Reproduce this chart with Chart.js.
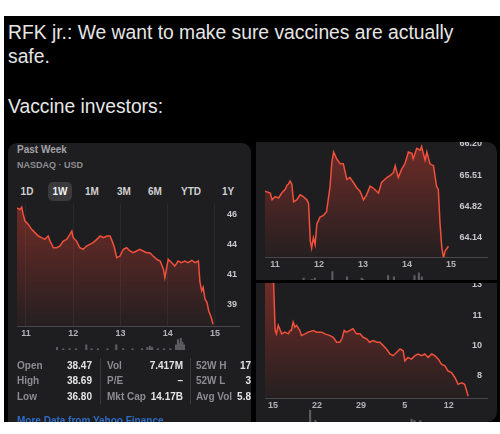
<!DOCTYPE html>
<html lang="en">
<head>
<meta charset="UTF-8">
<title>Vaccine investors</title>
<script src="https://cdn.jsdelivr.net/npm/chart.js"></script>
<style>
  body { margin: 0; width: 500px; height: 434px; background: #fff; position: relative; overflow: hidden;
         font-family: 'Liberation Sans', Arial, sans-serif; }
  .abs { position: absolute; white-space: nowrap; }
  #frame { left: 4px; top: 16px; width: 496px; height: 406px; background: #000; }
  .caption { color: #e6e6e6; font-size: 19.3px; line-height: 24px; left: 8px; }
  .panel { background: #1e1e20; overflow: hidden; }
  .hdr { color: #a2a2a6; font-weight: bold; line-height: 12px; }
  .btn { color: #d0d0d2; font-weight: bold; font-size: 10px; line-height: 12px; top: 43px; transform: translateX(-50%); }
  .lbl { color: #8c8c90; font-weight: bold; font-size: 10px; line-height: 12px; }
  .val { color: #e4e4e6; font-weight: bold; font-size: 10px; line-height: 12px; transform: translateX(-100%); }
  .sep { width: 1px; background: #3a3a3c; top: 215px; height: 46px; }
</style>
</head>
<body>
<div id="frame" class="abs"></div>
<div class="abs caption" style="top:21px">RFK jr.: We want to make sure vaccines are actually<br>safe.</div>
<div class="abs caption" style="top:95px">Vaccine investors:</div>

<div id="panelL" class="abs panel" style="left:8px;top:143px;width:243px;height:279px;border-radius:9px 9px 0 0">
  <div class="abs hdr" style="left:9px;top:1px;font-size:10px">Past Week</div>
  <div class="abs hdr" style="left:9px;top:16px;font-size:9px;color:#8e8e93">NASDAQ · USD</div>
  <div class="abs" style="left:40px;top:39px;width:24px;height:19px;border-radius:5px;background:#3a3a3c"></div>
  <div class="abs btn" style="left:19px">1D</div>
  <div class="abs btn" style="left:52px;color:#f2f2f4">1W</div>
  <div class="abs btn" style="left:84px">1M</div>
  <div class="abs btn" style="left:116px">3M</div>
  <div class="abs btn" style="left:147px">6M</div>
  <div class="abs btn" style="left:183px">YTD</div>
  <div class="abs btn" style="left:220px">1Y</div>
  <canvas id="weekChart" class="abs" style="left:9px;top:61px" width="223" height="137"></canvas>
  <canvas id="weekVolume" class="abs" style="left:9px;top:194px" width="223" height="13"></canvas>

  <div class="abs lbl" style="left:9px;top:217px">Open</div>
  <div class="abs lbl" style="left:9px;top:232px">High</div>
  <div class="abs lbl" style="left:9px;top:248px">Low</div>
  <div class="abs val" style="left:84px;top:217px">38.47</div>
  <div class="abs val" style="left:84px;top:232px">38.69</div>
  <div class="abs val" style="left:84px;top:248px">36.80</div>
  <div class="abs sep" style="left:92px"></div>
  <div class="abs lbl" style="left:99px;top:217px">Vol</div>
  <div class="abs lbl" style="left:99px;top:232px">P/E</div>
  <div class="abs lbl" style="left:99px;top:248px">Mkt Cap</div>
  <div class="abs val" style="left:175px;top:217px">7.417M</div>
  <div class="abs val" style="left:175px;top:232px">–</div>
  <div class="abs val" style="left:175px;top:248px">14.17B</div>
  <div class="abs sep" style="left:182px"></div>
  <div class="abs lbl" style="left:188px;top:217px">52W H</div>
  <div class="abs lbl" style="left:188px;top:232px">52W L</div>
  <div class="abs lbl" style="left:188px;top:248px">Avg Vol</div>
  <div class="abs val" style="left:243px;top:217px">17</div>
  <div class="abs val" style="left:243px;top:232px">3</div>
  <div class="abs val" style="left:243px;top:248px">5.8</div>
  <div class="abs" style="left:9px;top:272px;font-size:10px;font-weight:bold;color:#2f6cc4">More Data from Yahoo Finance</div>
</div>

<div class="abs panel" style="left:256px;top:142px;width:241px;height:138px;border-radius:0 10px 0 0">
  <canvas id="dayChart" class="abs" style="left:9px;top:0" width="223" height="130"></canvas>
  <canvas id="dayVolume" class="abs" style="left:9px;top:127px" width="223" height="13"></canvas>
</div>
<div class="abs panel" style="left:256px;top:283px;width:241px;height:139px;border-radius:0 0 10px 0">
  <canvas id="monthChart" class="abs" style="left:9px;top:0" width="223" height="130"></canvas>
  <canvas id="monthVolume" class="abs" style="left:9px;top:126px" width="223" height="14"></canvas>
</div>

<script>
// ---- data: [x position in tick units, value] ----
const weekLabels = ['11', '12', '13', '14', '15'];
const weekTicks = [39.1, 41.4, 43.7, 46.0];
const weekTickLabels = ['39', '41', '44', '46'];
const weekPrices = [
  [-0.20, 46.51], [-0.13, 46.38], [-0.09, 46.56], [-0.06, 46.00], [-0.02, 45.49], [0.05, 45.23],
  [0.12, 44.85], [0.19, 44.60], [0.26, 44.34], [0.33, 44.21], [0.40, 44.08], [0.47, 44.34],
  [0.51, 43.95], [0.58, 43.44], [0.65, 43.44], [0.72, 43.57], [0.79, 43.95], [0.86, 44.08],
  [0.93, 44.47], [0.97, 44.72], [1.00, 44.21], [1.07, 43.95], [1.14, 43.44], [1.21, 43.32],
  [1.28, 43.57], [1.35, 43.70], [1.42, 43.83], [1.50, 44.08], [1.57, 44.34], [1.64, 44.21],
  [1.71, 44.34], [1.78, 44.34], [1.85, 43.70], [1.88, 43.32], [1.92, 42.68], [1.99, 42.80],
  [2.06, 43.32], [2.13, 43.44], [2.20, 43.19], [2.27, 43.06], [2.34, 43.19], [2.41, 43.32],
  [2.48, 43.19], [2.55, 43.06], [2.62, 43.06], [2.69, 42.80], [2.77, 42.55], [2.84, 42.42],
  [2.91, 41.78], [2.94, 41.14], [3.01, 42.55], [3.08, 42.30], [3.15, 42.03], [3.22, 42.42],
  [3.29, 42.30], [3.36, 42.42], [3.43, 42.30], [3.51, 42.47], [3.58, 42.30], [3.65, 42.42],
  [3.68, 40.86], [3.72, 40.12], [3.75, 40.40], [3.79, 39.48], [3.83, 39.25], [3.87, 38.56],
  [3.92, 38.10], [3.96, 37.56]
];
const weekVolumes = [
  [-0.10, 2], [0.10, 1], [0.30, 1], [0.50, 1], [0.83, 4], [1.00, 1], [1.20, 1], [1.50, 1],
  [1.78, 4], [2.00, 1], [2.30, 1], [2.60, 1], [2.77, 2], [2.85, 3], [2.92, 2], [3.10, 1],
  [3.30, 1], [3.50, 1], [3.68, 4], [3.74, 8], [3.78, 5], [3.83, 9], [3.88, 6], [3.93, 4]
];

const dayLabels = ['11', '12', '13', '14', '15'];
const dayTicks = [64.14, 64.82, 65.51, 66.20];
const dayTickLabels = ['64.14', '64.82', '65.51', '66.20'];
const dayPrices = [
  [-0.23, 65.16], [-0.11, 65.12], [-0.07, 64.97], [0.00, 65.04], [0.08, 65.01], [0.15, 65.12],
  [0.23, 65.20], [0.27, 65.29], [0.30, 65.31], [0.34, 65.38], [0.38, 65.31], [0.42, 64.93],
  [0.49, 64.97], [0.57, 65.08], [0.64, 65.04], [0.72, 64.97], [0.76, 64.89], [0.80, 64.07],
  [0.83, 63.91], [0.87, 64.14], [0.91, 63.99], [0.95, 64.44], [1.02, 64.59], [1.10, 64.63],
  [1.17, 64.71], [1.25, 65.27], [1.29, 65.80], [1.33, 66.02], [1.40, 65.87], [1.48, 65.76],
  [1.55, 65.76], [1.63, 65.42], [1.70, 65.46], [1.78, 65.35], [1.86, 65.23], [1.93, 65.16],
  [2.01, 64.97], [2.08, 65.08], [2.16, 65.27], [2.23, 65.23], [2.35, 65.12], [2.42, 65.35],
  [2.54, 65.46], [2.61, 65.50], [2.69, 65.57], [2.73, 65.72], [2.80, 65.46], [2.88, 65.65],
  [2.95, 65.76], [3.03, 66.02], [3.11, 65.99], [3.14, 65.87], [3.22, 66.10], [3.30, 66.06],
  [3.33, 66.14], [3.41, 65.84], [3.45, 66.02], [3.52, 65.76], [3.60, 65.72], [3.67, 65.27],
  [3.71, 65.20], [3.75, 64.44], [3.79, 63.91], [3.83, 63.69], [3.86, 63.84], [3.94, 63.95]
];
const dayVolumes = [
  [-0.18, 3], [0.10, 2], [0.20, 3], [0.80, 8], [1.30, 4], [1.80, 3], [1.85, 2],
  [2.70, 5], [2.90, 4], [3.60, 5], [3.75, 7], [3.85, 4]
];

const monthLabels = ['15', '22', '29', '5', '12'];
const monthTicks = [8.2, 9.8, 11.4, 13.0];
const monthTickLabels = ['8', '10', '11', '13'];
const monthPrices = [
  [-0.18, 13.50], [0.01, 13.50], [0.05, 10.60], [0.08, 10.42], [0.12, 10.87], [0.20, 10.42],
  [0.27, 10.51], [0.35, 10.42], [0.39, 10.60], [0.42, 10.60], [0.46, 11.04], [0.50, 10.78],
  [0.54, 10.87], [0.61, 10.60], [0.65, 10.33], [0.73, 10.42], [0.80, 10.51], [0.92, 10.60],
  [0.99, 10.51], [1.11, 10.51], [1.18, 10.42], [1.30, 10.33], [1.37, 10.24], [1.45, 9.98],
  [1.52, 9.98], [1.57, 10.16], [1.62, 10.60], [1.67, 10.51], [1.75, 10.60], [1.82, 10.69],
  [1.90, 10.42], [1.98, 10.42], [2.05, 10.24], [2.13, 10.16], [2.20, 9.98], [2.28, 10.07],
  [2.36, 9.98], [2.43, 9.98], [2.51, 9.80], [2.58, 9.62], [2.66, 9.36], [2.73, 9.27],
  [2.81, 9.44], [2.89, 9.62], [2.96, 9.53], [3.00, 9.00], [3.07, 9.18], [3.15, 9.09],
  [3.23, 9.27], [3.30, 9.36], [3.38, 9.27], [3.45, 9.36], [3.53, 9.18], [3.61, 9.36],
  [3.68, 9.27], [3.76, 9.09], [3.83, 8.82], [3.91, 8.73], [3.98, 8.47], [4.06, 8.38],
  [4.14, 8.11], [4.21, 7.76], [4.29, 7.84], [4.36, 7.76], [4.44, 7.13]
];
const monthVolumes = [[0.09, 10], [0.27, 2], [3.55, 3], [3.65, 2], [3.85, 2]];

Chart.defaults.font.family = "'Liberation Sans', Arial, sans-serif";
Chart.defaults.font.weight = 'bold';

function redFill(context) {
  const { ctx, chartArea } = context.chart;
  if (!chartArea) return null;
  const g = ctx.createLinearGradient(0, chartArea.top, 0, chartArea.bottom);
  g.addColorStop(0, 'rgba(225, 65, 50, 0.42)');
  g.addColorStop(1, 'rgba(225, 65, 50, 0.04)');
  return g;
}

function priceChart(id, prices, xLabels, yTicks, yTickLabels, xRange, yRange, gridColor, labelPad) {
  return new Chart(document.getElementById(id), {
    type: 'line',
    data: {
      datasets: [{
        data: prices.map(p => ({ x: p[0], y: p[1] })),
        borderColor: '#f0503c',
        borderWidth: 1.5,
        backgroundColor: redFill,
        fill: 'start',
        pointRadius: 0,
        tension: 0
      }]
    },
    options: {
      responsive: false,
      animation: false,
      layout: { padding: 0 },
      plugins: { legend: { display: false }, tooltip: { enabled: false } },
      scales: {
        x: {
          type: 'linear',
          min: xRange[0],
          max: xRange[1],
          afterBuildTicks: axis => { axis.ticks = xLabels.map((_, i) => ({ value: i })); },
          afterFit: axis => { axis.paddingLeft = 0; axis.paddingRight = 0; },
          ticks: {
            callback: v => xLabels[v],
            color: '#b4b4b8',
            font: { size: 9 },
            padding: 2,
            maxRotation: 0,
            autoSkip: false
          },
          grid: { color: gridColor, drawTicks: false },
          border: { color: '#48484a', width: 1 }
        },
        y: {
          position: 'right',
          min: yRange[0],
          max: yRange[1],
          afterBuildTicks: axis => { axis.ticks = yTicks.map(v => ({ value: v })); },
          // labels sit on top of the plot, so the axis takes no room of its own
          afterFit: axis => { axis.width = 0; axis.paddingTop = 0; axis.paddingBottom = 0; },
          ticks: {
            callback: (v, i) => yTickLabels[i],
            mirror: true,
            color: '#c8c8cc',
            font: { size: 9 },
            padding: -labelPad
          },
          grid: { display: false, drawTicks: false },
          border: { display: false }
        }
      }
    }
  });
}

function volumeChart(id, volumes, xRange, yMax) {
  return new Chart(document.getElementById(id), {
    type: 'bar',
    data: {
      datasets: [{
        data: volumes.map(v => ({ x: v[0], y: v[1] })),
        backgroundColor: '#5c5c60',
        barThickness: 1.5
      }]
    },
    options: {
      responsive: false,
      animation: false,
      layout: { padding: 0 },
      plugins: { legend: { display: false }, tooltip: { enabled: false } },
      scales: {
        x: { type: 'linear', min: xRange[0], max: xRange[1], display: false },
        y: { min: 0, max: yMax, display: false }
      }
    }
  });
}

priceChart('weekChart', weekPrices, weekLabels, weekTicks, weekTickLabels,
  [-0.19, 4.53], [37.41, 46.8], 'rgba(255,255,255,0.05)', 3);
priceChart('dayChart', dayPrices, dayLabels, dayTicks, dayTickLabels,
  [-0.23, 4.84], [63.71, 66.24], 'rgba(255,255,255,0)', 6);
priceChart('monthChart', monthPrices, monthLabels, monthTicks, monthTickLabels,
  [-0.18, 4.89], [7.03, 13.1], 'rgba(255,255,255,0)', 6);

volumeChart('weekVolume', weekVolumes, [-0.19, 4.53], 10);
volumeChart('dayVolume', dayVolumes, [-0.23, 4.84], 10);
volumeChart('monthVolume', monthVolumes, [-0.18, 4.89], 11);
</script>
</body>
</html>
